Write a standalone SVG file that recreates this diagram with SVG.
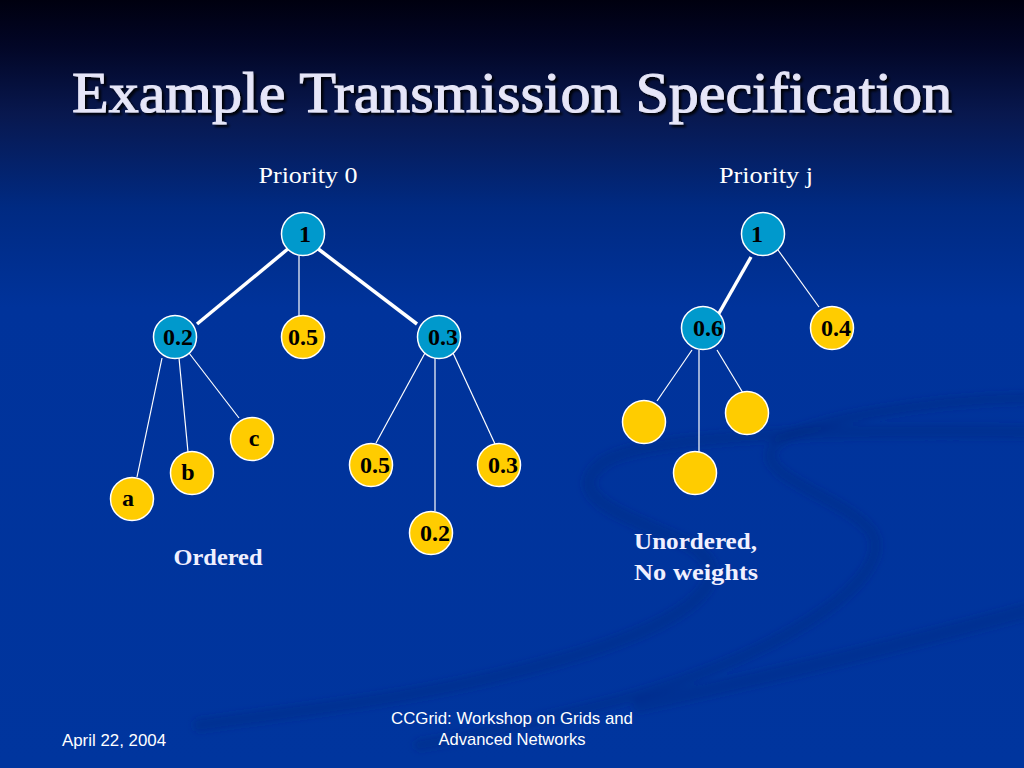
<svg xmlns="http://www.w3.org/2000/svg" width="1024" height="768" viewBox="0 0 1024 768">
<defs>
<linearGradient id="bg" x1="0" y1="0" x2="0" y2="1">
<stop offset="0" stop-color="#00000f"/>
<stop offset="0.06" stop-color="#020626"/>
<stop offset="0.15" stop-color="#08184f"/>
<stop offset="0.27" stop-color="#002a82"/>
<stop offset="0.4" stop-color="#00339b"/>
<stop offset="1" stop-color="#00359e"/>
</linearGradient>
<filter id="sh" x="-5%" y="-20%" width="110%" height="140%">
<feDropShadow dx="2.5" dy="2.5" stdDeviation="0.8" flood-color="#000000" flood-opacity="0.9"/>
</filter>
<filter id="blur" x="-10%" y="-10%" width="120%" height="120%">
<feGaussianBlur stdDeviation="3"/>
</filter>
<style>
.cyan{fill:#0099cc;stroke:#ffffff;stroke-width:1.5}
.yel{fill:#ffcc00;stroke:#ffffff;stroke-width:1.5}
.lbl{font-family:"Liberation Serif",serif;font-weight:bold;font-size:24px;fill:#000000;text-anchor:middle}
.thin{stroke:#ffffff;stroke-width:1.2;fill:none}
.thick{stroke:#ffffff;stroke-width:3.5;fill:none}
.sw{fill:none;stroke:#00287f;stroke-opacity:0.35;stroke-linecap:round}
.cap{font-family:"Liberation Serif",serif;font-weight:bold;font-size:24px;fill:#f0f0ff}
.foot{font-family:"Liberation Sans",Arial,sans-serif;font-size:17px;fill:#ffffff}
</style>
</defs>
<rect x="0" y="0" width="1024" height="768" fill="url(#bg)"/>
<g id="swirl" filter="url(#blur)">
<path class="sw" stroke-width="14" d="M1030,432 C900,430 640,430 600,465 C560,500 640,520 690,545 C740,575 700,620 560,660 C420,700 300,710 200,725"/>
<path class="sw" stroke-width="12" d="M1030,398 C930,400 800,420 775,445 C750,475 840,495 870,530 C900,570 800,650 620,700 C540,720 480,735 420,745"/>
<path class="sw" stroke-width="16" d="M1030,610 C920,640 800,670 640,705"/>
</g>
<text x="512" y="112" text-anchor="middle" textLength="880" lengthAdjust="spacingAndGlyphs" font-family="Liberation Serif,serif" font-size="57" fill="#e6e6f8" stroke="#e6e6f8" stroke-width="1" filter="url(#sh)">Example Transmission Specification</text>
<text x="308" y="183" text-anchor="middle" textLength="99" lengthAdjust="spacingAndGlyphs" font-family="Liberation Serif,serif" font-size="23" fill="#ffffff">Priority 0</text>
<text x="766" y="183" text-anchor="middle" textLength="94" lengthAdjust="spacingAndGlyphs" font-family="Liberation Serif,serif" font-size="23" fill="#ffffff">Priority j</text>
<g id="connectors">
<line class="thick" x1="289" y1="248" x2="197" y2="324"/>
<line class="thin" x1="299" y1="256" x2="299" y2="316"/>
<line class="thick" x1="317" y1="248" x2="417" y2="324"/>
<line class="thin" x1="162" y1="358" x2="137" y2="477"/>
<line class="thin" x1="179" y1="358" x2="188" y2="452"/>
<line class="thin" x1="189" y1="353" x2="239" y2="418"/>
<line class="thin" x1="425" y1="353" x2="376" y2="443"/>
<line class="thin" x1="435" y1="358" x2="435" y2="511"/>
<line class="thin" x1="453" y1="353" x2="495" y2="444"/>
<line class="thick" x1="751" y1="257" x2="718" y2="315"/>
<line class="thin" x1="778" y1="250" x2="819" y2="307"/>
<line class="thin" x1="692" y1="350" x2="657" y2="401"/>
<line class="thin" x1="699" y1="350" x2="699" y2="452"/>
<line class="thin" x1="717" y1="350" x2="743" y2="393"/>
</g>
<g id="n_root0"><circle class="cyan" cx="303" cy="234" r="21.5"/><text class="lbl" x="305" y="242">1</text></g>
<g id="n_l02"><circle class="cyan" cx="175" cy="337" r="21.5"/><text class="lbl" x="178" y="345">0.2</text></g>
<g id="n_l05"><circle class="yel" cx="303" cy="337" r="21.5"/><text class="lbl" x="303" y="345">0.5</text></g>
<g id="n_l03"><circle class="cyan" cx="439" cy="337" r="21.5"/><text class="lbl" x="443" y="345">0.3</text></g>
<g id="n_c"><circle class="yel" cx="252" cy="439" r="21.5"/><text class="lbl" x="254" y="446">c</text></g>
<g id="n_b"><circle class="yel" cx="192" cy="473" r="21.5"/><text class="lbl" x="188" y="480">b</text></g>
<g id="n_a"><circle class="yel" cx="132" cy="499" r="21.5"/><text class="lbl" x="128" y="506">a</text></g>
<g id="n_r05"><circle class="yel" cx="371" cy="465" r="21.5"/><text class="lbl" x="375" y="473">0.5</text></g>
<g id="n_r03"><circle class="yel" cx="499" cy="465" r="21.5"/><text class="lbl" x="503" y="473">0.3</text></g>
<g id="n_r02"><circle class="yel" cx="431" cy="533" r="21.5"/><text class="lbl" x="435" y="541">0.2</text></g>
<g id="n_rootj"><circle class="cyan" cx="763" cy="234" r="21.5"/><text class="lbl" x="757" y="242">1</text></g>
<g id="n_06"><circle class="cyan" cx="703" cy="328" r="21.5"/><text class="lbl" x="708" y="336">0.6</text></g>
<g id="n_04"><circle class="yel" cx="832" cy="328" r="21.5"/><text class="lbl" x="836" y="336">0.4</text></g>
<g id="n_u1"><circle class="yel" cx="644" cy="422" r="21.5"/></g>
<g id="n_u2"><circle class="yel" cx="747" cy="413" r="21.5"/></g>
<g id="n_u3"><circle class="yel" cx="695" cy="473" r="21.5"/></g>
<text class="cap" x="218" y="565" text-anchor="middle" textLength="89" lengthAdjust="spacingAndGlyphs">Ordered</text>
<text class="cap" x="634" y="549" textLength="123" lengthAdjust="spacingAndGlyphs">Unordered,</text>
<text class="cap" x="634" y="580" textLength="124" lengthAdjust="spacingAndGlyphs">No weights</text>
<text class="foot" x="62" y="746" textLength="104" lengthAdjust="spacingAndGlyphs">April 22, 2004</text>
<text class="foot" x="512" y="724" text-anchor="middle" textLength="242" lengthAdjust="spacingAndGlyphs">CCGrid: Workshop on Grids and</text>
<text class="foot" x="512" y="745" text-anchor="middle" textLength="147" lengthAdjust="spacingAndGlyphs">Advanced Networks</text>
</svg>
